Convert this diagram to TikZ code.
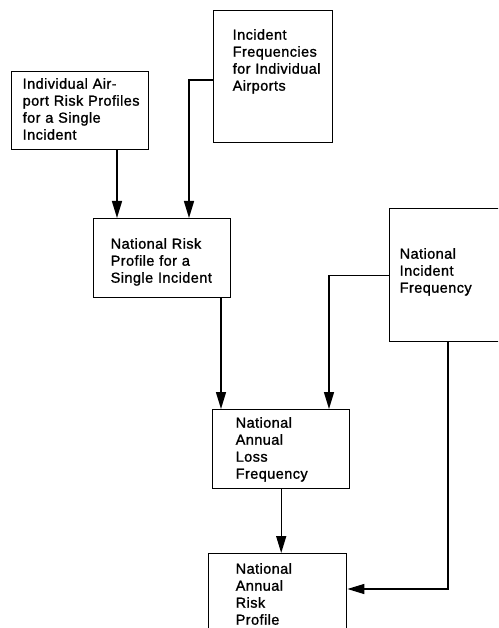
\documentclass[tikz,border=0pt]{standalone}
\usepackage{fontspec}
\setmainfont{Liberation Sans}[LetterSpace=3, FakeBold=1.2]
\usetikzlibrary{arrows.meta}

\newcommand{\blokfont}{\fontsize{14.5}{17}\selectfont}

\tikzset{
	blok/.style={draw, line width=1.4pt, anchor=north west, align=left, inner sep=0pt,
		font=\blokfont, execute at begin node={\leftskip=#1\relax}},
	pijl/.style={draw, line width=1.4pt, -{Triangle[length=17pt,width=10pt]}}
}

\begin{document}
\begin{tikzpicture}[x=1pt, y=-1pt]
\useasboundingbox (0,0) rectangle (498,628);
\clip (0,0) rectangle (498,628);

% Blokken
\node[blok=11pt, text width=137pt, text height=17pt, text depth=61pt] (irp) at (11,71)
	{Individual Air-\\port Risk Profiles\\for a Single\\Incident};
\node[blok=19pt, text width=119pt, text height=29pt, text depth=103pt] (ifa) at (213,10)
	{Incident\\Frequencies\\for Individual\\Airports};
\node[blok=17pt, text width=137pt, text height=30pt, text depth=49pt] (nrp) at (93,218)
	{National Risk\\Profile for a\\Single Incident};
\node[blok=10pt, text width=125pt, text height=50pt, text depth=83pt] (nif) at (389,208)
	{National\\Incident\\Frequency};
\node[blok=23pt, text width=137pt, text height=18pt, text depth=61pt] (nalf) at (212,409)
	{National\\Annual\\Loss\\Frequency};
\node[blok=27pt, text width=138pt, text height=20pt, text depth=80pt] (narp) at (208,553)
	{National\\Annual\\Risk\\Profile};

% Knikpunten
\coordinate (k1) at (117,0);
\coordinate (k2) at (189,80);
\coordinate (k3) at (221,0);
\coordinate (k4) at (329,0);
\coordinate (k5) at (448,589);

% Pijlen
\draw[pijl] (irp.south -| k1) -- (nrp.north -| k1);
\draw[pijl] (ifa.west |- k2) -| (nrp.north -| k2);
\draw[pijl] (nrp.south -| k3) -- (nalf.north -| k3);
\draw[pijl] (nif.west) -| (nalf.north -| k4);
\draw[pijl] (nalf.south) -- (nalf.south |- narp.north);
\draw[pijl] (nif.south -| k5) |- (narp.east |- k5);
\end{tikzpicture}
\end{document}
